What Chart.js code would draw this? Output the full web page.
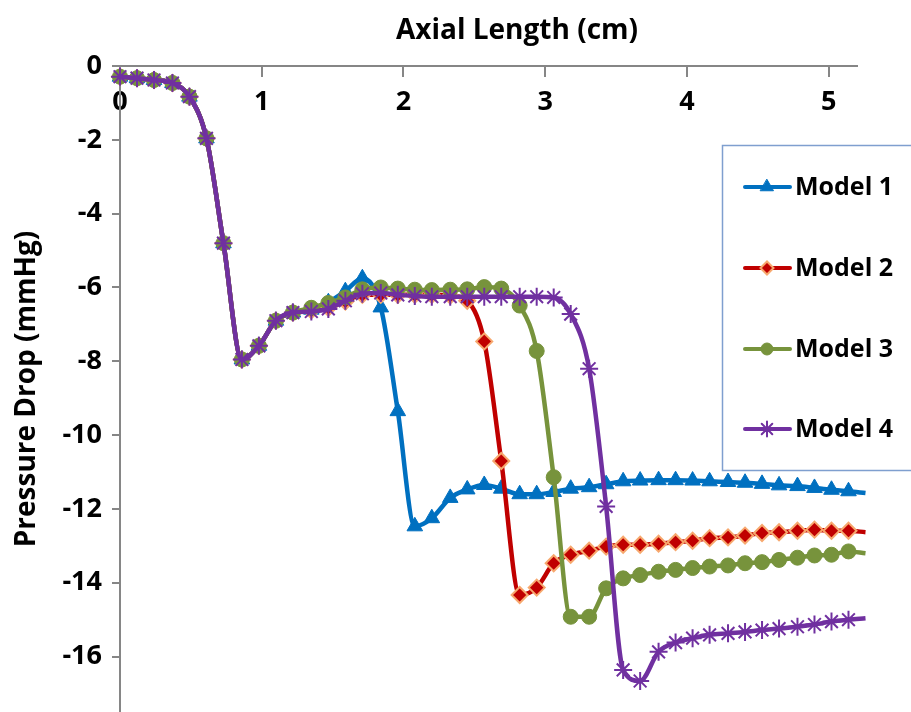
<!DOCTYPE html>
<html>
<head>
<meta charset="utf-8">
<script src="https://cdn.jsdelivr.net/npm/chart.js@4.4.1/dist/chart.umd.min.js"></script>
<style>
  html, body { margin: 0; background: #fff; height: 712px; overflow: hidden; }
  canvas { display: block; }
</style>
</head>
<body>
<canvas id="chart" width="911" height="712"></canvas>
<script>
// axial positions (cm)
const axial = [0, 0.12, 0.24, 0.37, 0.49, 0.61, 0.73, 0.86, 0.98, 1.10, 1.22, 1.35, 1.47, 1.59,
  1.71, 1.84, 1.96, 2.08, 2.20, 2.33, 2.45, 2.57, 2.69, 2.82, 2.94, 3.06, 3.18, 3.31, 3.43,
  3.55, 3.67, 3.80, 3.92, 4.04, 4.16, 4.29, 4.41, 4.53, 4.65, 4.78, 4.90, 5.02, 5.14, 5.26];

const model1 = [-0.29, -0.33, -0.38, -0.46, -0.83, -1.96, -4.8, -7.95, -7.58, -6.9, -6.68, -6.6, -6.4, -6.1,
  -5.75, -6.54, -9.35, -12.47, -12.25, -11.7, -11.47, -11.35, -11.45, -11.6, -11.6, -11.54, -11.45, -11.41, -11.33,
  -11.25, -11.23, -11.22, -11.22, -11.23, -11.25, -11.27, -11.29, -11.32, -11.36, -11.38, -11.43, -11.48, -11.52, -11.57];
const model2 = [-0.29, -0.33, -0.38, -0.46, -0.83, -1.96, -4.8, -7.95, -7.58, -6.9, -6.68, -6.62, -6.55, -6.38,
  -6.2, -6.2, -6.2, -6.2, -6.2, -6.22, -6.36, -7.46, -10.7, -14.33, -14.13, -13.47, -13.24, -13.13, -13.02,
  -12.97, -12.97, -12.94, -12.9, -12.86, -12.79, -12.77, -12.72, -12.65, -12.63, -12.59, -12.56, -12.59, -12.59, -12.63];
const model3 = [-0.29, -0.33, -0.38, -0.46, -0.83, -1.96, -4.8, -7.95, -7.58, -6.9, -6.68, -6.55, -6.42, -6.27,
  -6.05, -6.0, -6.03, -6.06, -6.07, -6.06, -6.05, -5.99, -6.03, -6.49, -7.72, -11.14, -14.92, -14.92, -14.15,
  -13.88, -13.79, -13.7, -13.65, -13.6, -13.56, -13.53, -13.47, -13.44, -13.38, -13.32, -13.26, -13.24, -13.15, -13.2];
const model4 = [-0.29, -0.33, -0.38, -0.46, -0.83, -1.96, -4.8, -7.95, -7.58, -6.9, -6.68, -6.65, -6.58, -6.36,
  -6.17, -6.15, -6.2, -6.23, -6.25, -6.25, -6.25, -6.25, -6.25, -6.25, -6.25, -6.27, -6.72, -8.2, -11.93,
  -16.36, -16.66, -15.87, -15.62, -15.5, -15.41, -15.37, -15.33, -15.28, -15.24, -15.19, -15.13, -15.05, -15.0, -14.96];

const seriesNames = ["Model 1", "Model 2", "Model 3", "Model 4"];
const xTicks = [0, 1, 2, 3, 4, 5];
const yTicks = [0, -2, -4, -6, -8, -10, -12, -14, -16];

const FONT = "'Open Sans', sans-serif";
const AXIS_GREY = "#868686";
const VIEW_H = 712;

function toPoints(ys) {
  return ys.map((y, i) => ({ x: axial[i], y: y }));
}

// no marker on the trailing point, as in the original
function markerSize(r) {
  return (ctx) => (ctx.dataIndex === axial.length - 1 ? 0 : r);
}

const styles = [
  { color: "#0070C0", fill: "#0070C0", border: "#0070C0", pointStyle: "triangle", r: 9, bw: 1 },
  { color: "#C00000", fill: "#C00000", border: "#F7A86E", pointStyle: "rectRot", r: 8, bw: 2 },
  { color: "#77933C", fill: "#77933C", border: "#77933C", pointStyle: "circle", r: 7.5, bw: 1 },
  { color: "#7030A0", fill: "#7030A0", border: "#7030A0", pointStyle: "star", r: 9, bw: 2 },
];

const values = [model1, model2, model3, model4];

// chart heading and the boxed legend that sits over the plot
const overlay = {
  id: "overlay",
  afterDraw(chart) {
    const ctx = chart.ctx;
    ctx.save();
    ctx.fillStyle = "#000";
    ctx.font = "bold 28px " + FONT;
    ctx.textAlign = "center";
    ctx.textBaseline = "middle";
    ctx.fillText("Axial Length (cm)", 517, 31);

    ctx.fillStyle = "#fff";
    ctx.fillRect(722, 145, 200, 325);
    ctx.strokeStyle = "#7F9FCF";
    ctx.lineWidth = 1.5;
    ctx.strokeRect(722.5, 145.5, 200, 325);

    const rows = [187, 268, 349, 429];
    styles.forEach((s, i) => {
      const y = rows[i];
      ctx.strokeStyle = s.color;
      ctx.lineWidth = 4;
      ctx.lineCap = "round";
      ctx.beginPath();
      ctx.moveTo(745, y);
      ctx.lineTo(790, y);
      ctx.stroke();
      ctx.fillStyle = s.fill;
      ctx.strokeStyle = s.border;
      ctx.lineWidth = s.bw;
      Chart.helpers.drawPoint(ctx, { pointStyle: s.pointStyle, radius: s.r - 1.5, rotation: 0, borderWidth: s.bw }, 767, y);
      ctx.fillStyle = "#000";
      ctx.font = "bold 25px " + FONT;
      ctx.textAlign = "left";
      ctx.textBaseline = "middle";
      ctx.fillText(seriesNames[i], 795, y + 1);
    });
    ctx.restore();
  },
};

function makeConfig() {
  const datasets = values.map((ys, i) => ({
    label: seriesNames[i],
    data: toPoints(ys),
    borderColor: styles[i].color,
    borderWidth: 4.5,
    pointStyle: styles[i].pointStyle,
    pointRadius: markerSize(styles[i].r),
    pointBackgroundColor: styles[i].fill,
    pointBorderColor: styles[i].border,
    pointBorderWidth: styles[i].bw,
    cubicInterpolationMode: "monotone",
    clip: false,
    order: 4 - i, // model 4 drawn on top
  }));

  return {
    type: "line",
    data: { datasets: datasets },
    plugins: [overlay],
    options: {
      responsive: false,
      animation: false,
      layout: { padding: { top: 66, right: 54, bottom: 0, left: 0 } },
      plugins: {
        legend: { display: false },
        tooltip: { enabled: false },
      },
      scales: {
        x: {
          type: "linear",
          position: { y: 0 },
          min: 0,
          max: 5.2,
          afterBuildTicks: (scale) => {
            scale.ticks = xTicks.map((v) => ({ value: v }));
          },
          ticks: {
            color: "#000",
            padding: 10,
            font: { family: FONT, size: 27, weight: "bold" },
          },
          grid: { drawOnChartArea: false, tickLength: 10, color: AXIS_GREY, lineWidth: 2 },
          border: { color: AXIS_GREY, width: 2 },
        },
        y: {
          type: "linear",
          position: "left",
          min: -17.5,
          max: 0,
          afterBuildTicks: (scale) => {
            scale.ticks = yTicks.map((v) => ({ value: v }));
          },
          afterFit: (scale) => {
            scale.width = 120;
            scale.paddingTop = 0;
            scale.paddingBottom = 0;
          },
          ticks: {
            color: "#000",
            padding: 10,
            font: { family: FONT, size: 27, weight: "bold" },
          },
          grid: { drawOnChartArea: false, tickLength: 8, color: AXIS_GREY, lineWidth: 2 },
          border: { color: AXIS_GREY, width: 2 },
          title: {
            display: true,
            text: "Pressure Drop (mmHg)",
            color: "#000",
            font: { family: FONT, size: 28, weight: "bold" },
            padding: { top: 10, bottom: 0 },
          },
        },
      },
    },
  };
}

// the plot runs off the bottom edge in the original: grow the canvas by
// whatever gap the layout leaves, and let the page crop it
const canvas = document.getElementById("chart");
let chart = new Chart(canvas, makeConfig());
const gap = Math.round(VIEW_H - chart.chartArea.bottom);
if (gap > 0) {
  chart.destroy();
  canvas.height = VIEW_H + gap;
  canvas.style.height = VIEW_H + gap + "px";
  chart = new Chart(canvas, makeConfig());
}
</script>
</body>
</html>
